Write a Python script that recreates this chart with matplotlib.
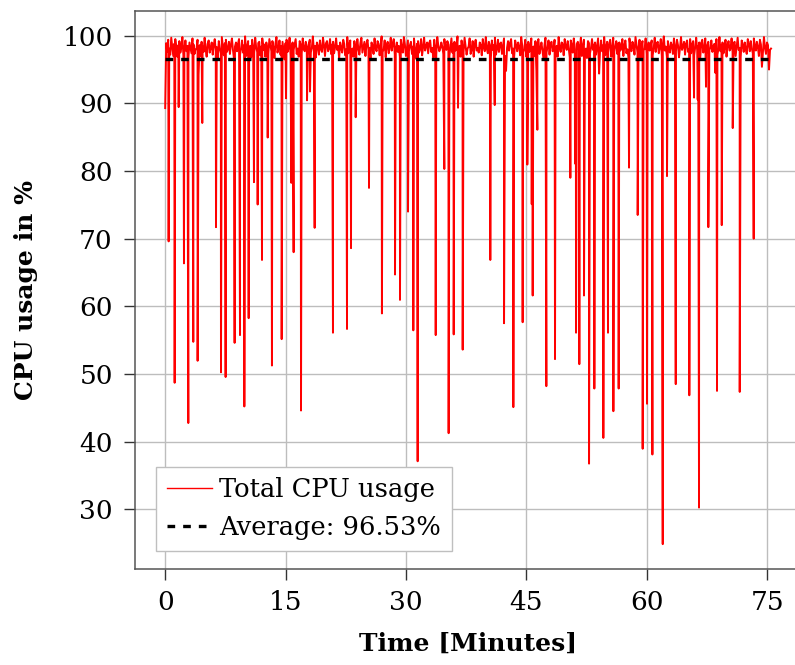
import matplotlib
matplotlib.use("Agg")
import matplotlib.pyplot as plt
import numpy as np

# CPU usage sampled over the run (minutes / percent)
end_minute = 75.47
average_cpu = 96.53

# regular samples, read as a band between ~96.5 and 100
base_cpu = [
    89.3, 98.9, 97.6, 99.4, 98.1, 97.2, 99.7, 98.4, 97.0, 98.8, 99.5, 97.8, 96.9, 98.6, 99.2, 97.5, 98.3, 99.8, 97.1, 98.0,
    99.3, 97.7, 98.5, 96.8, 99.0, 98.2, 97.4, 99.6, 98.7, 97.3, 98.0, 98.1, 99.4, 94.2, 98.6, 97.0, 99.1, 98.4, 97.6, 99.7,
    98.0, 96.9, 98.8, 99.3, 97.5, 98.2, 99.0, 97.2, 98.6, 99.5, 97.8, 98.3, 96.7, 99.2, 98.1, 97.4, 99.8, 98.5, 97.1, 98.9,
    99.4, 97.6, 98.0, 99.1, 97.3, 98.7, 99.6, 97.9, 96.6, 98.4, 99.0, 97.7, 98.8, 99.5, 97.2, 98.1, 99.3, 97.5, 98.6, 99.9,
    97.0, 98.3, 99.2, 97.8, 98.5, 96.8, 99.4, 98.0, 97.4, 99.7, 98.2, 97.6, 98.9, 99.1, 97.1, 98.4, 99.6, 97.9, 98.7, 96.9,
    99.0, 98.1, 97.3, 99.5, 98.6, 97.7, 99.2, 98.3, 96.7, 98.8, 99.8, 97.5, 98.0, 99.3, 97.2, 98.5, 99.1, 97.8, 96.5, 98.9,
    99.4, 97.6, 98.2, 99.7, 97.0, 98.4, 99.0, 97.9, 98.7, 99.5, 97.3, 98.1, 96.9, 99.2, 98.6, 97.4, 99.6, 98.0, 97.7, 99.1,
    98.3, 97.1, 98.8, 99.4, 97.5, 98.2, 99.9, 97.8, 98.5, 96.8, 99.0, 98.4, 97.2, 99.3, 98.0, 97.6, 99.7, 98.6, 97.0, 98.9,
    99.2, 97.7, 98.1, 99.5, 97.3, 98.7, 99.1, 97.4, 98.3, 99.6, 97.9, 98.5, 96.6, 99.0, 98.2, 97.5, 99.4, 98.8, 97.1, 98.0,
    99.8, 97.4, 98.6, 99.3, 97.8, 98.1, 96.9, 99.2, 98.4, 97.6, 99.5, 98.0, 97.2, 98.9, 99.7, 97.5, 98.3, 99.1, 97.0, 98.7,
    99.4, 97.9, 98.2, 96.7, 99.0, 98.5, 97.3, 99.6, 98.1, 97.7, 99.2, 98.8, 97.1, 98.4, 99.9, 97.6, 98.0, 99.3, 96.8, 98.6,
    99.1, 97.4, 98.3, 99.7, 97.8, 98.9, 99.5, 97.2, 98.0, 99.0, 97.6, 98.5, 96.9, 99.4, 98.2, 97.5, 99.8, 98.7, 97.0, 98.1,
    99.3, 97.7, 98.6, 99.1, 97.3, 98.4, 99.6, 97.9, 96.6, 98.8, 99.2, 97.5, 98.0, 99.5, 97.1, 98.3, 99.7, 97.8, 98.5, 99.0,
    97.4, 98.9, 99.3, 97.6, 98.2, 96.8, 99.4, 98.0, 97.2, 99.8, 98.6, 97.7, 98.1, 99.0, 98.4, 97.3, 99.5, 98.1, 97.9, 99.2,
    98.7, 97.0, 98.3, 99.6, 97.5, 98.8, 99.1, 97.8, 98.0, 99.9, 97.3, 98.5, 96.9, 99.3, 98.2, 97.6, 99.7, 98.4, 97.2, 98.1,
    98.4, 99.6, 97.3, 98.0, 99.2, 96.9, 98.7, 99.4, 97.8, 98.2, 97.5, 99.0, 98.6, 97.1, 99.5, 98.3, 97.7, 99.8, 98.1, 97.4,
    99.1, 98.5, 96.7, 99.3, 97.9, 98.6, 99.7, 97.2, 98.0, 99.4, 97.6, 98.8, 99.0, 97.3, 98.4, 99.6, 97.0, 94.8, 98.2, 99.2,
    97.8, 98.9, 99.5, 97.4, 98.1, 96.8, 99.3, 98.6, 97.7, 99.0, 98.3, 97.1, 99.8, 98.5, 97.5, 98.0, 99.4, 96.9, 98.7, 99.1,
    97.6, 98.2, 99.6, 97.9, 98.4, 97.0, 99.2, 94.9, 98.8, 99.5, 97.3, 98.1, 99.0, 97.8, 96.6, 98.6, 99.7, 97.5, 98.3, 99.3,
    97.2, 98.9, 99.1, 97.7, 98.0, 99.4, 97.4, 98.5, 96.9, 99.8, 98.2, 97.6, 99.0, 98.7, 97.1, 99.5, 98.4, 97.9, 99.2, 98.1,
    96.8, 99.3, 98.6, 97.5, 99.6, 98.0, 97.3, 98.8, 99.1, 97.8, 98.3, 99.7, 97.0, 98.5, 99.4, 97.6, 98.1, 96.7, 99.2, 98.9,
    97.4, 98.2, 99.5, 97.9, 98.7, 99.0, 97.2, 98.4, 99.6, 94.4, 98.0, 99.3, 97.7, 98.6, 99.8, 97.1, 98.3, 99.1, 97.5, 98.8,
    99.4, 96.9, 98.1, 99.7, 97.6, 98.5, 99.2, 97.3, 98.9, 99.0, 97.8, 98.2, 99.5, 97.0, 98.6, 99.3, 97.4, 98.0, 96.8, 99.6,
    98.3, 97.7, 99.1, 98.4, 97.2, 99.8, 98.7, 97.5, 98.1, 99.4, 96.6, 98.8, 99.2, 97.9, 98.0, 99.6, 97.3, 98.5, 99.0, 97.8,
    98.6, 99.3, 97.1, 98.2, 99.7, 97.6, 98.9, 99.1, 97.4, 98.3, 99.5, 97.0, 98.7, 99.9, 97.8, 98.4, 96.9, 99.2, 98.1, 97.5,
    99.0, 98.5, 97.3, 99.6, 98.0, 97.7, 99.4, 98.6, 96.8, 98.2, 99.8, 97.9, 98.4, 99.1, 97.2, 98.8, 99.3, 97.6, 98.0, 99.5,
    97.4, 98.7, 99.2, 97.1, 98.3, 99.7, 97.8, 98.5, 99.0, 96.7, 98.9, 99.4, 97.5, 98.1, 99.6, 97.3, 98.6, 99.1, 97.9, 98.2,
    99.3, 97.6, 98.4, 98.8, 94.5, 99.5, 97.2, 98.0, 99.8, 97.7, 98.6, 99.0, 97.4, 98.3, 99.4, 96.9, 98.7, 99.2, 97.8, 98.1,
    99.6, 97.5, 98.9, 99.1, 97.0, 98.4, 99.7, 97.9, 98.2, 96.8, 99.3, 98.6, 97.6, 99.0, 98.0, 97.3, 99.5, 98.8, 97.7, 99.2,
    98.1, 97.4, 99.6, 98.5, 97.8, 99.1, 98.3, 97.0, 99.4, 98.7, 95.4, 97.6, 99.8, 98.2, 97.3, 99.0, 98.6, 95.0, 97.9, 98.1,
]

# short drops in usage
dip_minute = [
    0.43, 1.18, 1.68, 2.34, 2.88, 3.50, 4.04, 4.62, 6.33, 6.95, 7.53, 8.65, 9.32, 9.86, 10.40, 11.06, 11.52, 12.06,
    12.77, 13.30, 14.51, 15.05, 15.71, 16.00, 16.92, 17.67, 18.04, 18.62, 20.90, 22.65, 23.15, 23.73, 25.39,
    27.00, 28.63, 29.25, 30.25, 30.91, 31.45, 33.70, 34.77, 35.31, 35.94, 36.48, 37.06,
    40.50, 41.05, 42.21, 43.37, 44.53, 45.11, 45.66, 45.78, 46.36, 47.48, 48.56,
    50.47, 51.05, 51.18, 51.59, 52.17, 52.80, 53.46, 54.58, 55.16, 55.83, 56.49,
    57.78, 58.86, 59.48, 60.02, 60.69, 61.98, 62.51, 63.60,
    65.29, 65.88, 66.34, 66.50, 67.37, 67.66, 68.74, 69.33, 70.70, 71.57, 73.31,
]
dip_cpu = [
    69.6, 48.7, 89.45, 66.35, 42.75, 54.75, 51.95, 87.1, 71.7, 50.25, 49.55, 54.6, 55.75, 45.2, 58.25, 78.35, 75.05, 66.85,
    84.95, 51.25, 55.15, 90.75, 78.25, 68.0, 44.6, 90.45, 91.75, 71.6, 56.1, 56.65, 68.6, 87.95, 77.5,
    58.95, 64.7, 60.95, 74.0, 56.45, 37.1, 55.75, 80.3, 41.25, 55.85, 89.35, 53.6,
    66.85, 89.75, 57.5, 45.1, 57.65, 80.95, 75.1, 61.6, 86.1, 48.2, 52.2,
    79.0, 81.1, 56.1, 51.45, 61.6, 36.75, 47.85, 40.55, 56.1, 44.5, 47.85,
    80.5, 73.5, 38.95, 45.6, 38.1, 24.85, 79.25, 48.5,
    46.85, 90.85, 90.55, 30.25, 92.45, 71.7, 47.5, 72.0, 86.35, 47.35, 70.0,
]

xticks = [0, 15, 30, 45, 60, 75]
yticks = [30, 40, 50, 60, 70, 80, 90, 100]

plt.rcParams["font.family"] = ["DejaVu Serif"]

base_minute = np.linspace(0, end_minute, len(base_cpu))
t = np.concatenate([base_minute, dip_minute])
v = np.concatenate([base_cpu, dip_cpu])
order = np.argsort(t, kind="stable")
t, v = t[order], v[order]

W, H = 795, 665
fig = plt.figure(figsize=(W / 100, H / 100), dpi=100)
ax = fig.add_axes([135 / W, 1 - 569.3 / H, 666.3 / W, 558.3 / H])

ax.plot(t, v, color="#ff0000", lw=1.4, label="Total CPU usage", zorder=2)
ax.plot([t[0], t[-1]], [average_cpu, average_cpu], color="black", lw=2.4,
        dashes=(2.3, 2.4), label=f"Average: {average_cpu:.2f}%", zorder=3)

ax.set_xlim(-3.76, 79.24)
ax.set_ylim(21.13, 103.65)
ax.set_xticks(xticks)
ax.set_yticks(yticks)
ax.grid(True, color="#bdbdbd", lw=1.0)
ax.set_axisbelow(True)

for s in ax.spines.values():
    s.set_color("#555555")
    s.set_linewidth(1.1)

ax.tick_params(direction="out", length=8, width=1.0, color="#333333", labelsize=19)
ax.tick_params(axis="y", pad=8)
ax.tick_params(axis="x", pad=7)

ax.set_xlabel("Time [Minutes]", fontsize=18, fontweight="bold", labelpad=12)
ax.set_ylabel("CPU usage in %", fontsize=18, fontweight="bold", labelpad=18)

leg = ax.legend(loc="lower left", bbox_to_anchor=(0.0315, 0.0328), borderaxespad=0,
                fontsize=18.5, fancybox=False, framealpha=1, edgecolor="#bfbfbf",
                handlelength=1.75, handletextpad=0.3, borderpad=0.42, labelspacing=0.5)
leg.get_frame().set_linewidth(1.0)
leg.get_lines()[0].set_linewidth(1.0)

fig.savefig("out.png", dpi=100)
